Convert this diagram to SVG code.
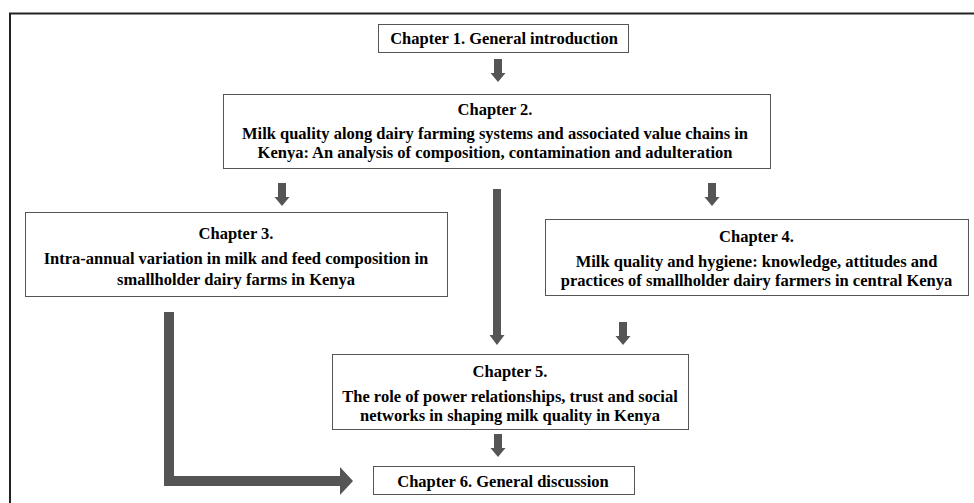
<svg xmlns="http://www.w3.org/2000/svg" width="974" height="503" viewBox="0 0 974 503">
<style>
.box{fill:#fff;stroke:#555;stroke-width:1}
.t{font-family:"Liberation Serif","Times New Roman",serif;font-weight:bold;font-size:16.5px;fill:#000;text-anchor:middle}
.arr{fill:#555;stroke:none}
</style>
<defs>
<path id="sa" d="M-4,0 H4 V14 H7.5 L0,23 L-7.5,14 H-4 Z"/>
</defs>
<rect x="0" y="0" width="974" height="503" fill="#fff"/>
<path d="M10,503 V13.5 H974" fill="none" stroke="#222" stroke-width="2"/>
<g id="ch1">
<rect class="box" x="378.5" y="24.5" width="250" height="28" stroke="#333"/>
<text class="t" x="504" y="44">Chapter 1. General introduction</text>
</g>
<g id="ch2">
<rect class="box" x="223.5" y="94.5" width="547" height="74"/>
<text class="t" x="495" y="115">Chapter 2.</text>
<text class="t" x="495" y="139">Milk quality along dairy farming systems and associated value chains in</text>
<text class="t" x="495" y="158">Kenya: An analysis of composition, contamination and adulteration</text>
</g>
<g id="ch3">
<rect class="box" x="25.5" y="212.5" width="422" height="84"/>
<text class="t" x="236" y="239">Chapter 3.</text>
<text class="t" x="236" y="264">Intra-annual variation in milk and feed composition in</text>
<text class="t" x="236" y="285">smallholder dairy farms in Kenya</text>
</g>
<g id="ch4">
<rect class="box" x="545.5" y="219.5" width="423" height="76"/>
<text class="t" x="756.5" y="242">Chapter 4.</text>
<text class="t" x="756.5" y="267" font-size="16.7">Milk quality and hygiene: knowledge, attitudes and</text>
<text class="t" x="756.5" y="286" font-size="16.7">practices of smallholder dairy farmers in central Kenya</text>
</g>
<g id="ch5">
<rect class="box" x="332.5" y="354.5" width="356" height="75"/>
<text class="t" x="510" y="377">Chapter 5.</text>
<text class="t" x="510" y="402">The role of power relationships, trust and social</text>
<text class="t" x="510" y="421">networks in shaping milk quality in Kenya</text>
</g>
<g id="ch6">
<rect class="box" x="373.5" y="466.5" width="261" height="28"/>
<text class="t" x="503" y="487">Chapter 6. General discussion</text>
</g>
<g id="connectors">
<use href="#sa" class="arr" x="498" y="59"/>
<use href="#sa" class="arr" x="282" y="183"/>
<use href="#sa" class="arr" x="712" y="183"/>
<path class="arr" d="M493,189 H501 V335 H504.5 L497,345 L489.5,335 H493 Z"/>
<use href="#sa" class="arr" x="623" y="322"/>
<use href="#sa" class="arr" x="498" y="434"/>
<path class="arr" d="M164,312 H174 V476 H340 V467 L353,481 L340,495 V486 H164 Z"/>
</g>
</svg>
